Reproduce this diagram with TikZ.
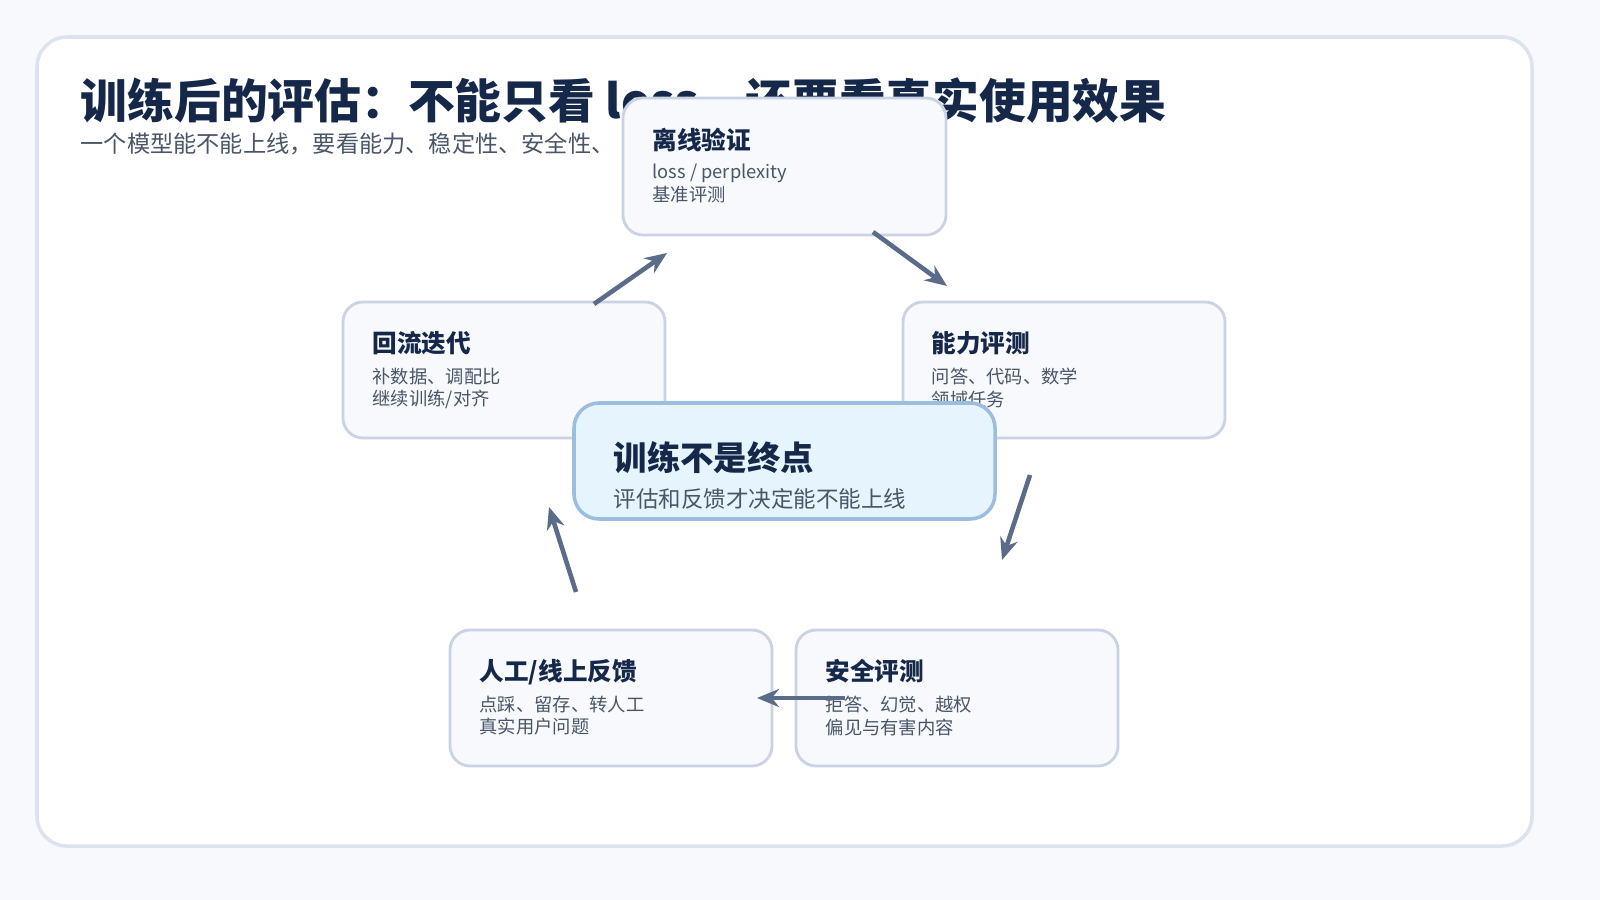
\documentclass[tikz,border=0pt]{standalone}
\usepackage{fontspec}
\setmainfont{Noto Sans CJK SC}
\usetikzlibrary{arrows.meta}
\definecolor{bg}{HTML}{F7F9FC}
\definecolor{edge}{HTML}{DCE3EE}
\definecolor{boxedge}{HTML}{C9D3E3}
\definecolor{head}{HTML}{16284A}
\definecolor{body}{HTML}{4A5568}
\definecolor{arr}{HTML}{5B6B8A}
\definecolor{cfill}{HTML}{E6F4FD}
\definecolor{cedge}{HTML}{9BBDE0}
\tikzset{
 card/.style={draw=boxedge, line width=0.8pt, fill=bg, rounded corners=0.2cm},
 hd/.style={anchor=base west, text=head, font=\fontsize{7}{8}\selectfont\bfseries, inner sep=0},
 bd/.style={anchor=north west, text=body, font=\fontsize{5.2}{6.5}\selectfont, inner sep=0, align=left},
 ar/.style={draw=arr, line width=1.3pt, -{Stealth[length=2.2mm,width=1.8mm]}}
}
\begin{document}
\begin{tikzpicture}[x=0.01cm,y=-0.01cm]
\useasboundingbox (0,0) rectangle (1600,900);
\fill[bg] (0,0) rectangle (1600,900);
\draw[edge, fill=white, line width=1pt, rounded corners=0.3cm] (37,37) rectangle (1532,846);
\node[anchor=base west, text=head, font=\fontsize{13.3}{15}\selectfont\bfseries, inner sep=0] (title) at (80,118) {训练后的评估：不能只看 loss，还要看真实使用效果};
\node[anchor=base west, text=body, font=\fontsize{6.6}{8}\selectfont, inner sep=0] (sub) at (80,152) {一个模型能不能上线，要看能力、稳定性、安全性、};
% top
\draw[card] (623,98) rectangle (946,235);
\node[hd] (h1) at (652,149) {离线验证};
\node[bd] (b1) at (652,163) {loss / perplexity\\基准评测};
% left
\draw[card] (343,302) rectangle (665,438);
\node[hd] (h2) at (372,352) {回流迭代};
\node[bd] (b2) at (372,367) {补数据、调配比\\继续训练/对齐};
% right
\draw[card] (903,302) rectangle (1225,438);
\node[hd] (h3) at (931,352) {能力评测};
\node[bd] (b3) at (931,367) {问答、代码、数学\\领域任务};
% bottom
\draw[card] (450,630) rectangle (772,766);
\node[hd] (h4) at (479,680) {人工/线上反馈};
\node[bd] (b4) at (479,695) {点踩、留存、转人工\\真实用户问题};
\draw[card] (796,630) rectangle (1118,766);
\node[hd] (h5) at (825,680) {安全评测};
\node[bd] (b5) at (825,695) {拒答、幻觉、越权\\偏见与有害内容};
% center
\draw[draw=cedge, fill=cfill, line width=1pt, rounded corners=0.25cm] (574,403) rectangle (995,519);
\node[anchor=base west, text=head, font=\fontsize{9.5}{11}\selectfont\bfseries, inner sep=0] (ct) at (613,470) {训练不是终点};
\node[anchor=base west, text=body, font=\fontsize{6.4}{8}\selectfont, inner sep=0] (cs) at (613,507) {评估和反馈才决定能不能上线};
% arrows
\coordinate (a1s) at (594,304); \coordinate (a1e) at (667,253);
\coordinate (a2s) at (873,232); \coordinate (a2e) at (947,286);
\coordinate (a3s) at (1030,475); \coordinate (a3e) at (1002,560);
\coordinate (a4s) at (845,698); \coordinate (a4e) at (757,698);
\coordinate (a5s) at (576,592); \coordinate (a5e) at (549,507);
\draw[ar] (a1s) -- (a1e);
\draw[ar] (a2s) -- (a2e);
\draw[ar] (a3s) -- (a3e);
\draw[ar] (a4s) -- (a4e);
\draw[ar] (a5s) -- (a5e);
\end{tikzpicture}
\end{document}
